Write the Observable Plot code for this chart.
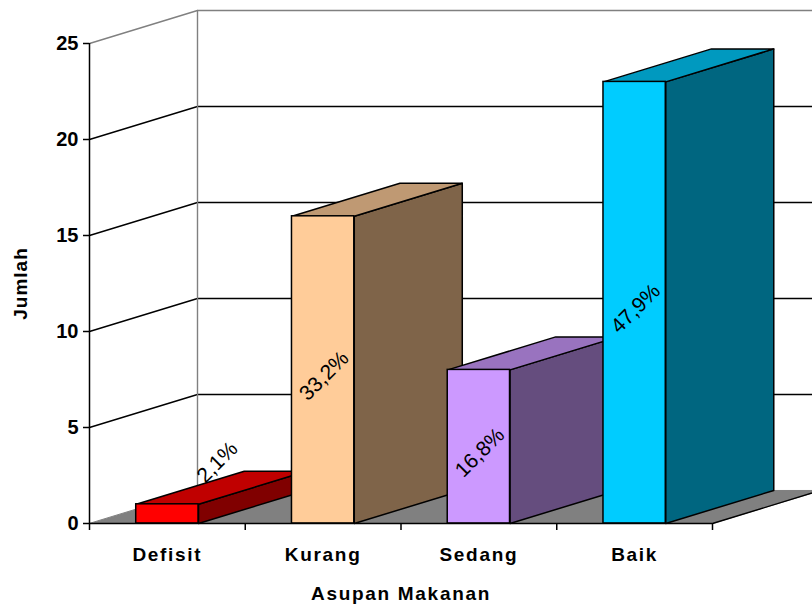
<!DOCTYPE html>
<html>
<head>
<meta charset="utf-8">
<script src="https://cdn.jsdelivr.net/npm/d3@7"></script>
<script src="https://cdn.jsdelivr.net/npm/@observablehq/plot@0.6"></script>
<style>
  html, body { margin: 0; padding: 0; background: #fff; overflow: hidden; }
  #chart { width: 812px; height: 607px; overflow: hidden; }
  #chart svg { overflow: hidden; }
</style>
</head>
<body>
<div id="chart"></div>
<script>
// Food intake categories and number of respondents in each
const categories = ["Defisit", "Kurang", "Sedang", "Baik"];
const counts = [1, 16, 8, 23];
const percentLabels = ["2,1%", "33,2%", "16,8%", "47,9%"];
const yTicks = [0, 5, 10, 15, 20, 25];

// Face colours of each 3D column: front, top (lighter shade), side (darker shade)
const frontColors = ["#ff0000", "#ffcc99", "#cc99ff", "#00ccff"];
const topColors = ["#c00000", "#bf9973", "#9973bf", "#0099bf"];
const sideColors = ["#800000", "#7f6449", "#654d7e", "#006680"];

// Oblique depth of the 3D box, in data units (x: category bands, y: counts)
const DX = 0.6934;
const DY = 1.72;
const HALF = 0.2;     // half width of a column front, in bands
const X_END = 4.65;   // back wall extends to the right edge

const bars = categories.map((c, i) => ({
  c, i, v: counts[i], label: percentLabels[i],
  x1: i + 0.5 - HALF, x2: i + 0.5 + HALF
}));

const polygon = (pts) => pts.map(([x, y]) => ({x, y}));

const floor = polygon([[0, 0], [4, 0], [4 + DX, DY], [DX, DY]]);

const faceMarks = [];
// side faces first, then tops, then fronts so later columns cover earlier sides
bars.forEach(b => {
  faceMarks.push(Plot.line(polygon([[b.x2, 0], [b.x2 + DX, DY], [b.x2 + DX, b.v + DY], [b.x2, b.v]]),
    {x: "x", y: "y", curve: "linear-closed", fill: sideColors[b.i], stroke: "black", strokeWidth: 1.5}));
});
bars.forEach(b => {
  faceMarks.push(Plot.line(polygon([[b.x1, b.v], [b.x2, b.v], [b.x2 + DX, b.v + DY], [b.x1 + DX, b.v + DY]]),
    {x: "x", y: "y", curve: "linear-closed", fill: topColors[b.i], stroke: "black", strokeWidth: 1.5}));
});

// gridlines: along the left wall, then across the back wall
const gridPts = yTicks.filter(t => t > 0).flatMap(t => [
  {t, x: 0, y: t}, {t, x: DX, y: t + DY}, {t, x: X_END, y: t + DY}
]);
const topTick = d3.max(yTicks);

const labelPos = (b) => b.v >= 4
  ? {x: b.i + 0.5, y: b.v / 2, dx: 1, dy: 6}
  : {x: b.i + 0.5, y: b.v, dx: 50, dy: -42};

const chart = Plot.plot({
  width: 812,
  height: 607,
  marginLeft: 89,
  marginRight: 100,
  marginTop: 43,
  marginBottom: 84,
  x: {domain: [0, 4]},
  y: {domain: [0, 25]},
  color: {type: "identity"},
  style: {fontFamily: "Arial, 'Liberation Sans', sans-serif", fontSize: "19px", fontWeight: "bold", background: "#fff"},
  marks: [
    // floor
    Plot.line(floor, {x: "x", y: "y", curve: "linear-closed", fill: "#808080", stroke: "#808080", strokeWidth: 1}),
    // back-wall gridlines
    Plot.line(gridPts, {x: "x", y: "y", z: "t",
      stroke: d => d.t === topTick ? "#808080" : "black", strokeWidth: 1.4}),
    // back-wall left edge
    Plot.line(polygon([[DX, DY], [DX, topTick + DY]]), {x: "x", y: "y", stroke: "#808080", strokeWidth: 1.4}),
    // floor right edge
    Plot.line(polygon([[4, 0], [4 + DX, DY]]), {x: "x", y: "y", stroke: "black", strokeWidth: 1.4}),
    ...faceMarks,
    Plot.rect(bars, {x1: "x1", x2: "x2", y1: 0, y2: "v", fill: d => frontColors[d.i], stroke: "black", strokeWidth: 1.5}),
    // axes lines
    Plot.ruleX([0], {y1: 0, y2: topTick, stroke: "black", strokeWidth: 1.5}),
    Plot.ruleY([0], {x1: 0, x2: 4, stroke: "black", strokeWidth: 1.5}),
    Plot.axisY({ticks: yTicks, tickSize: 6, tickPadding: 5, label: null, strokeWidth: 1.5, fontSize: 20, fontWeight: "bold"}),
    Plot.axisX({ticks: [0, 1, 2, 3, 4], tickSize: 7, tickFormat: () => "", label: null, strokeWidth: 1.5}),
    // category names
    Plot.text(bars, {x: d => d.i + 0.5, y: 0, text: "c", dy: 31, fontSize: 19, fontWeight: "bold", fill: "black"}),
    // percentage labels
    Plot.text(bars, {
      x: d => labelPos(d).x, y: d => labelPos(d).y, text: "label",
      rotate: -45, fontSize: 21, fontWeight: "normal", fill: "black"
    }),
    // axis titles
    Plot.text(["Jumlah"], {x: 0, y: 12.5, text: d => d, dx: -69, rotate: -90, fontSize: 19, fontWeight: "bold", fill: "black"}),
    Plot.text(["Asupan Makanan"], {x: 2, y: 0, text: d => d, dy: 70, fontSize: 19, fontWeight: "bold", fill: "black"})
  ]
});

// nudge the percentage labels by the per-label offsets; widen title tracking
const svg = d3.select(chart);
svg.selectAll("text").each(function () {
  const t = this.textContent;
  const bi = percentLabels.indexOf(t);
  if (bi >= 0) {
    const p = labelPos(bars[bi]);
    const tr = this.getAttribute("transform") || "";
    this.setAttribute("transform", `translate(${p.dx},${p.dy}) ${tr}`);
  }
  if (categories.includes(t) || t === "Asupan Makanan") {
    this.style.letterSpacing = "1.7px";
  }
  if (t === "Jumlah") {
    this.style.letterSpacing = "1px";
  }
});

document.getElementById("chart").appendChild(chart);
</script>
</body>
</html>
